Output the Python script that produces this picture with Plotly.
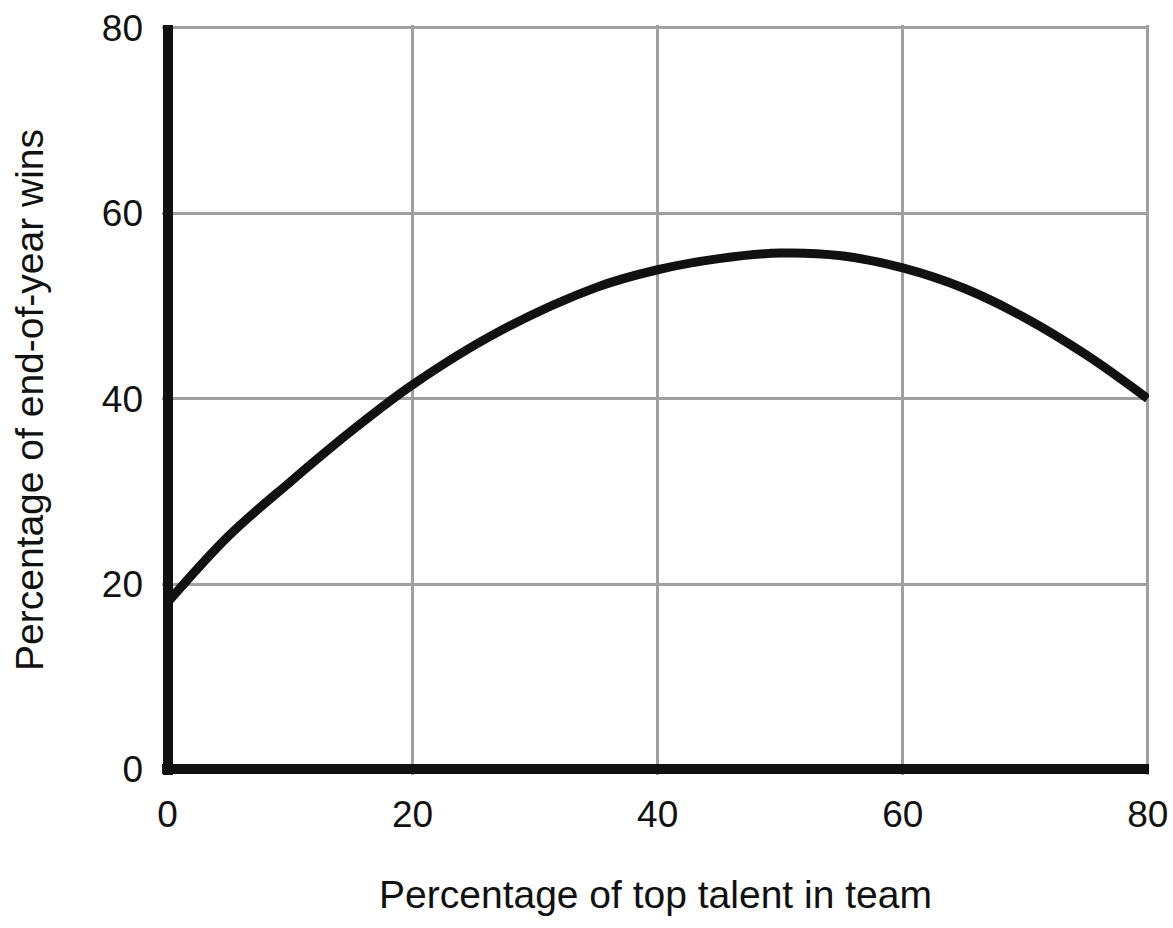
"""Top talent share vs end-of-year wins: single smooth curve on a plain grid."""
import plotly.graph_objects as go

# values
talent_pct = [0, 5, 10, 15, 20, 27, 35, 40, 45, 50, 55, 60, 65, 70, 75, 80]
wins_pct = [18, 25.2, 31.0, 36.5, 41.5, 47.2, 52.0, 53.9, 55.1, 55.7, 55.4, 54.1, 51.9, 48.7, 44.7, 40]

tick_vals = [0, 20, 40, 60, 80]

FONT = "Liberation Sans, Arial, Helvetica, sans-serif"
INK = "#111111"
GRID = "#a0a0a0"

fig = go.Figure()
fig.add_trace(go.Scatter(
    x=talent_pct,
    y=wins_pct,
    mode="lines",
    line=dict(color=INK, width=9, shape="spline", smoothing=1.0),
    hoverinfo="skip",
    showlegend=False,
))

# thick black axes are drawn as zero lines so they sit centred on 0
axis_common = dict(
    tickmode="array",
    tickvals=tick_vals,
    ticktext=[str(v) for v in tick_vals],
    showgrid=True,
    gridcolor=GRID,
    gridwidth=2.5,
    zeroline=True,
    zerolinecolor=INK,
    zerolinewidth=10,
    showline=False,
    ticks="",
    automargin=False,
    ticklabeloverflow="allow",
    tickfont=dict(family=FONT, size=37, color=INK),
)
title_font = dict(family=FONT, size=39, color=INK)

fig.update_layout(
    width=1173,
    height=928,
    margin=dict(l=162, r=24, t=25, b=153),
    paper_bgcolor="white",
    plot_bgcolor="white",
    xaxis=dict(
        range=[-0.45, 80.1],
        ticklabelstandoff=14,
        title=dict(text="Percentage of top talent in team", standoff=46,
                   font=title_font),
        **axis_common,
    ),
    yaxis=dict(
        range=[-0.6, 80.3],
        ticklabelstandoff=18,
        title=dict(text="Percentage of end-of-year wins", standoff=46,
                   font=title_font),
        **axis_common,
    ),
)

# drop the default 8px body margin so the figure fills the window exactly
fig.write_html(
    "out.html",
    config={"displayModeBar": False},
    post_script="document.body.style.margin = '0';",
)
